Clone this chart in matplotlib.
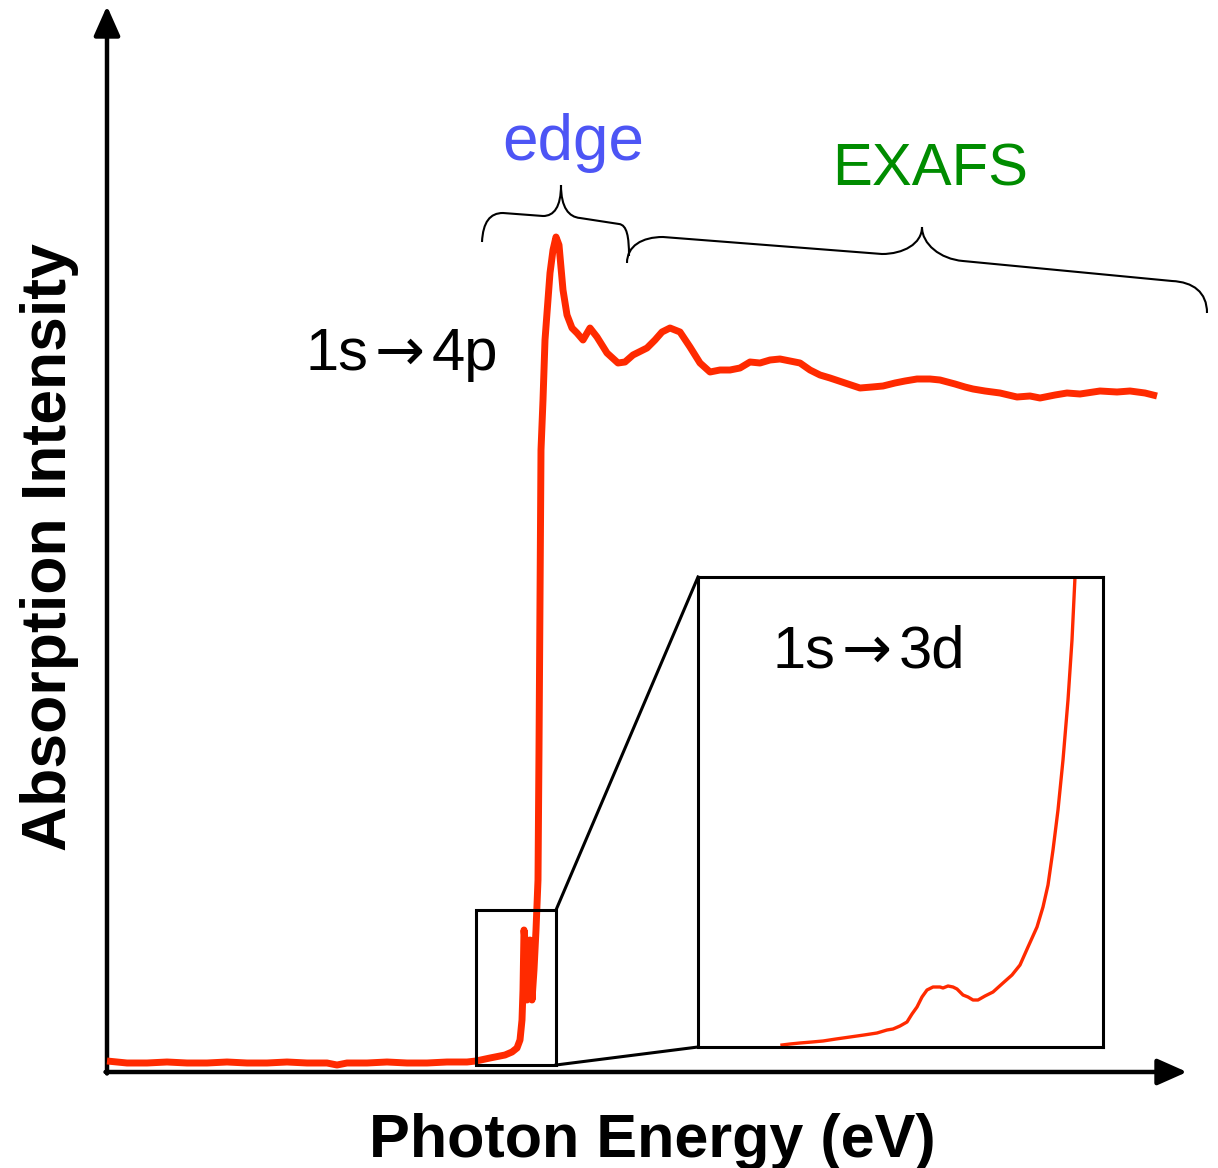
import matplotlib
matplotlib.use("Agg")
import matplotlib.pyplot as plt
from matplotlib.path import Path
from matplotlib.patches import PathPatch, Rectangle

# ---------------- data (relative units) ----------------
energy = [0, 2, 4, 6, 8, 10, 12, 14, 16, 18, 20, 22, 23, 24, 26, 28, 30, 32, 34, 36, 36.9,
          38.3, 39.8, 40.5, 41.0, 41.3, 41.5, 41.6, 41.7, 41.9, 42.0, 42.2, 42.3, 42.5, 42.7,
          42.9, 43.1, 43.2, 43.3, 43.4, 43.6, 43.8, 44.0, 44.3, 44.6, 44.9, 45.2, 45.6, 46.0,
          46.5, 47.0, 47.6, 48.3, 49.0, 50.0, 51.1, 51.8, 52.6, 54.0, 54.8, 55.5, 56.3, 57.3,
          58.3, 59.3, 60.3, 61.3, 62.3, 63.3, 64.3, 65.3, 66.3, 67.3, 68.3, 69.3, 70.3, 71.3,
          72.3, 73.8, 75.3, 76.5, 77.6, 78.8, 79.8, 81.0, 82.3, 83.3, 84.8, 85.8, 86.6, 87.8,
          89.3, 91.0, 92.3, 93.3, 94.8, 96.0, 97.3, 99.3, 101.0, 102.3, 103.8, 105.0]
intensity = [1.1, 0.9, 0.9, 1.0, 0.9, 0.9, 1.0, 0.9, 0.9, 1.0, 0.9, 0.9, 0.7, 0.9, 0.9, 1.0, 0.9, 0.9, 1.0, 1.0, 1.1,
             1.4, 1.7, 2.0, 2.4, 3.2, 5.2, 8.2, 14.2, 12.2, 7.2, 8.7, 13.2, 7.2, 10.2,
             14.2, 19.2, 32.2, 47.2, 62.2, 67.2, 73.2, 75.9, 79.9, 82.2, 83.5, 82.7, 78.2, 75.7,
             74.4, 73.9, 73.2, 74.4, 73.5, 71.9, 70.9, 71.0, 71.7, 72.4, 73.2, 74.0, 74.4, 74.0,
             72.5, 70.9, 70.0, 70.2, 70.2, 70.4, 71.0, 70.9, 71.2, 71.3, 71.1, 70.9, 70.2, 69.7,
             69.4, 68.9, 68.4, 68.5, 68.6, 68.9, 69.1, 69.3, 69.3, 69.2, 68.8, 68.5, 68.3, 68.1,
             67.9, 67.5, 67.6, 67.4, 67.7, 67.9, 67.8, 68.1, 68.0, 68.1, 67.9, 67.6]

# pre-edge region (inset, its own relative units)
energy_pre = [8.4, 9.2, 10.2, 11.4, 12.5, 13.8, 15.2, 16.6, 17.9, 18.9, 19.5, 20.2, 20.9, 21.4,
              21.9, 22.4, 22.9, 23.5, 24.2, 24.5, 25.0, 25.5, 25.9, 26.5, 27.0, 27.5, 28.0, 28.7,
              29.5, 30.5, 31.4, 32.2, 33.0, 33.9, 34.5, 35.0, 35.5, 36.0, 36.5, 37.0, 37.4, 37.7]
intensity_pre = [0.2, 0.3, 0.4, 0.5, 0.6, 0.8, 1.0, 1.2, 1.4, 1.7, 1.8, 2.1, 2.5, 3.3,
                 4.0, 5.0, 5.7, 6.0, 6.0, 5.9, 6.1, 6.0, 5.8, 5.2, 5.0, 4.7, 4.7, 5.1,
                 5.5, 6.4, 7.2, 8.2, 10.0, 12.0, 14.0, 16.2, 19.7, 23.7, 28.7, 34.7, 40.7, 47.0]

zoom_box = [36.9, 44.9, 0.7, 16.2]        # x0, x1, y0, y1 (main units)
inset_box = [59.1, 99.6, 2.5, 49.5]       # x0, x1, y0, y1 (main units)

labels = {"x": "Photon Energy (eV)", "y": "Absorption Intensity",
          "edge": "edge", "exafs": "EXAFS"}
transition_main = ["1s", "\u2192", "4p"]
transition_pre = ["1s", "\u2192", "3d"]

# ---------------- styling ----------------
RED = "#ff2a00"
BLUE = "#4d55f5"
GREEN = "#008c00"
FONT = ["Liberation Sans", "DejaVu Sans"]
ARROWFONT = ["DejaVu Sans"]
plt.rcParams["font.family"] = FONT

W, H = 1218, 1168
fig = plt.figure(figsize=(W / 100, H / 100), dpi=100)
ax = fig.add_axes([107 / W, (H - 1072) / H, 1080 / W, 1064 / H])
ax.set_xlim(0, 108)
ax.set_ylim(0, 106.4)
ax.axis("off")

# axes arrows
arrow_kw = dict(arrowstyle="-|>,head_length=1.8,head_width=0.8", lw=3.2, color="black",
                mutation_scale=10, shrinkA=0, shrinkB=0)
ax.annotate("", xy=(108, 0), xytext=(-0.15, 0), arrowprops=arrow_kw, annotation_clip=False)
ax.annotate("", xy=(0, 106.6), xytext=(0, -0.15), arrowprops=arrow_kw, annotation_clip=False)

# main spectrum
ax.plot(energy, intensity, color=RED, lw=5.0, solid_joinstyle="round",
        solid_capstyle="butt", clip_on=False, zorder=3)

# zoom box and connectors
zx0, zx1, zy0, zy1 = zoom_box
ix0, ix1, iy0, iy1 = inset_box
ax.add_patch(Rectangle((zx0, zy0), zx1 - zx0, zy1 - zy0, fill=False, lw=2.2,
                       ec="black", zorder=4))
ax.plot([zx1, ix0], [zy1, iy1], color="black", lw=2.2, zorder=4)
ax.plot([zx1, ix0], [zy0, iy0], color="black", lw=2.2, zorder=4)

# inset
axin = ax.inset_axes([ix0, iy0, ix1 - ix0, iy1 - iy0], transform=ax.transData)
axin.set_xlim(0, ix1 - ix0)
axin.set_ylim(0, iy1 - iy0)
axin.plot(energy_pre, intensity_pre, color=RED, lw=2.4, solid_joinstyle="round")
axin.set_xticks([])
axin.set_yticks([])
for s in axin.spines.values():
    s.set_linewidth(2.2)
    s.set_color("black")


def transition(axis, parts, x_left, x_arrow, x_right, y_base, fs=43):
    axis.text(x_left, y_base, parts[0], fontsize=fs, ha="left", va="baseline", family=FONT)
    axis.text(x_arrow, y_base, parts[1], fontsize=fs, ha="center", va="baseline",
              family=ARROWFONT)
    axis.text(x_right, y_base, parts[2], fontsize=fs, ha="left", va="baseline", family=FONT)


transition(axin, transition_pre, 7.4, 16.9, 20.1, 37.9)
transition(ax, transition_main, 19.8, 29.3, 32.5, 70.2)

# braces
def brace(pts):
    verts = [pts[0]]
    codes = [Path.MOVETO]
    for seg in pts[1:]:
        if len(seg) == 3:
            verts += list(seg)
            codes += [Path.CURVE4] * 3
        else:
            verts.append(seg)
            codes.append(Path.LINETO)
    return Path(verts, codes)

edge_brace = [(37.5, 83.0),
              ((37.6, 85.0), (38.3, 85.9), (39.6, 85.9)),
              (43.6, 85.6),
              ((44.7, 85.6), (45.4, 86.5), (45.4, 88.7)),
              ((45.4, 86.4), (46.2, 85.5), (47.3, 85.4)),
              (51.2, 84.8),
              ((52.0, 84.7), (52.2, 83.5), (52.2, 81.6))]
exafs_brace = [(52.0, 80.9),
               ((52.0, 82.6), (53.5, 83.5), (55.6, 83.5)),
               (77.5, 81.8),
               ((79.6, 81.8), (81.5, 82.8), (81.5, 84.5)),
               ((81.5, 82.8), (83.3, 81.3), (85.6, 81.1)),
               (106.5, 79.1),
               ((108.6, 79.0), (110.0, 78.0), (110.0, 75.9))]
for b in (edge_brace, exafs_brace):
    ax.add_patch(PathPatch(brace(b), fill=False, lw=1.5, ec="black", clip_on=False))

# text labels
ax.text(46.6, 91.2, labels["edge"], color=BLUE, fontsize=46, ha="center", va="baseline",
        family=FONT, clip_on=False)
ax.text(82.3, 88.7, labels["exafs"], color=GREEN, fontsize=43, ha="center", va="baseline",
        family=FONT, clip_on=False)

fig.text(50 / W, (H - 547.5) / H, labels["y"], rotation=90, fontsize=45, fontweight="bold",
         ha="center", va="center", family=FONT)
fig.text(652.5 / W, (H - 1157) / H, labels["x"], fontsize=44, fontweight="bold",
         ha="center", va="baseline", family=FONT)

fig.savefig("out.png", dpi=100)
